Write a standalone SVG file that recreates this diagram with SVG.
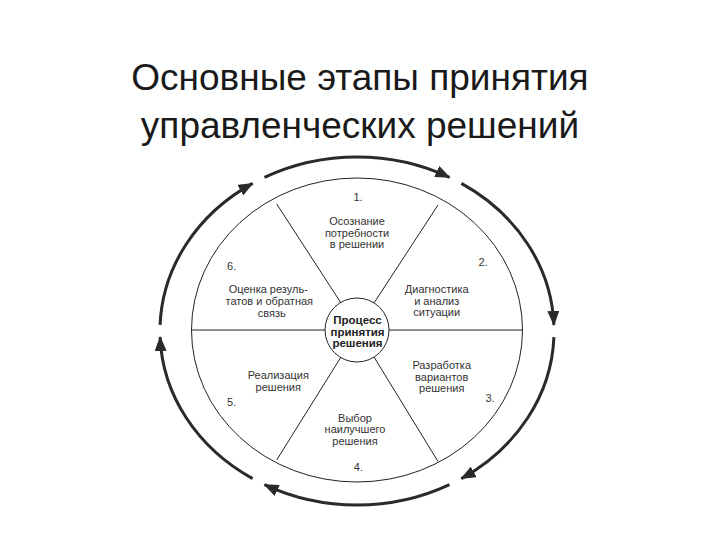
<svg xmlns="http://www.w3.org/2000/svg" width="720" height="540" viewBox="0 0 720 540">
<defs>
<style>
.title{font-family:"Liberation Sans",Arial,sans-serif;font-size:37px;fill:#1a1a1a;text-anchor:middle}
.lbl{font-family:"Liberation Sans",Arial,sans-serif;font-size:11px;fill:#333;text-anchor:middle}
.num{font-family:"Liberation Sans",Arial,sans-serif;font-size:11px;fill:#333;text-anchor:middle}
.ctr{font-family:"Liberation Sans",Arial,sans-serif;font-size:11.5px;font-weight:bold;fill:#222;text-anchor:middle}
.thin{fill:none;stroke:#222;stroke-width:1}
.arc{fill:none;stroke:#2a2a2a;stroke-width:3;marker-end:url(#ah)}
</style>
<marker id="ah" markerUnits="userSpaceOnUse" markerWidth="16" markerHeight="12" refX="14" refY="6" orient="auto">
<path d="M0,0 L15,6 L0,12 z" fill="#2a2a2a"/>
</marker>
</defs>
<rect width="720" height="540" fill="#fff"/>
<g id="title">
<text class="title" x="360" y="90">Основные этапы принятия</text>
<text class="title" x="360" y="138">управленческих решений</text>
</g>
<g id="connectors">
<path class="arc" d="M264.5,177.4 A197,174 0 0 1 449.5,177.4"/>
<path class="arc" d="M461.4,183.4 A197,174 0 0 1 553.9,324.9"/>
<path class="arc" d="M553.9,337.1 A197,174 0 0 1 461.4,478.6"/>
<path class="arc" d="M449.5,484.6 A197,174 0 0 1 264.5,484.6"/>
<path class="arc" d="M252.6,478.6 A197,174 0 0 1 160.1,337.1"/>
<path class="arc" d="M160.1,324.9 A197,174 0 0 1 252.6,183.4"/>
</g>
<g id="wheel">
<ellipse class="thin" cx="357" cy="330" rx="165.5" ry="152"/>
<line class="thin" x1="191.5" y1="330" x2="325" y2="330"/>
<line class="thin" x1="389" y1="330" x2="522.5" y2="330"/>
<line class="thin" x1="276.7" y1="204" x2="341" y2="303"/>
<line class="thin" x1="438" y1="205" x2="374" y2="303"/>
<line class="thin" x1="276.7" y1="460" x2="341" y2="357"/>
<line class="thin" x1="438" y1="461.5" x2="374" y2="357"/>
</g>
<g id="center">
<circle class="thin" cx="357" cy="330" r="32" fill="#fff"/>
<text class="ctr" x="357.5" y="324">Процесс</text>
<text class="ctr" x="357.5" y="335.5">принятия</text>
<text class="ctr" x="357.5" y="347">решения</text>
</g>
<g id="stage1">
<text class="num" x="358" y="200.5">1.</text>
<text class="lbl" x="357" y="225">Осознание</text>
<text class="lbl" x="357" y="236.5">потребности</text>
<text class="lbl" x="357" y="248">в решении</text>
</g>
<g id="stage2">
<text class="num" x="483" y="266">2.</text>
<text class="lbl" x="436.7" y="293">Диагностика</text>
<text class="lbl" x="436.7" y="305">и анализ</text>
<text class="lbl" x="436.7" y="316">ситуации</text>
</g>
<g id="stage3">
<text class="lbl" x="441.7" y="369">Разработка</text>
<text class="lbl" x="441.7" y="380.5">вариантов</text>
<text class="lbl" x="441.7" y="391.5">решения</text>
<text class="num" x="490" y="402">3.</text>
</g>
<g id="stage4">
<text class="lbl" x="355" y="422">Выбор</text>
<text class="lbl" x="355" y="433">наилучшего</text>
<text class="lbl" x="355" y="444.5">решения</text>
<text class="num" x="358.3" y="470.5">4.</text>
</g>
<g id="stage5">
<text class="lbl" x="278.3" y="379">Реализация</text>
<text class="lbl" x="278.3" y="390.5">решения</text>
<text class="num" x="231.7" y="405.5">5.</text>
</g>
<g id="stage6">
<text class="num" x="231.7" y="269.5">6.</text>
<text class="lbl" x="268.3" y="293">Оценка резуль-</text>
<text class="lbl" x="269.3" y="305">татов и обратная</text>
<text class="lbl" x="271.7" y="316.5">связь</text>
</g>
</svg>
